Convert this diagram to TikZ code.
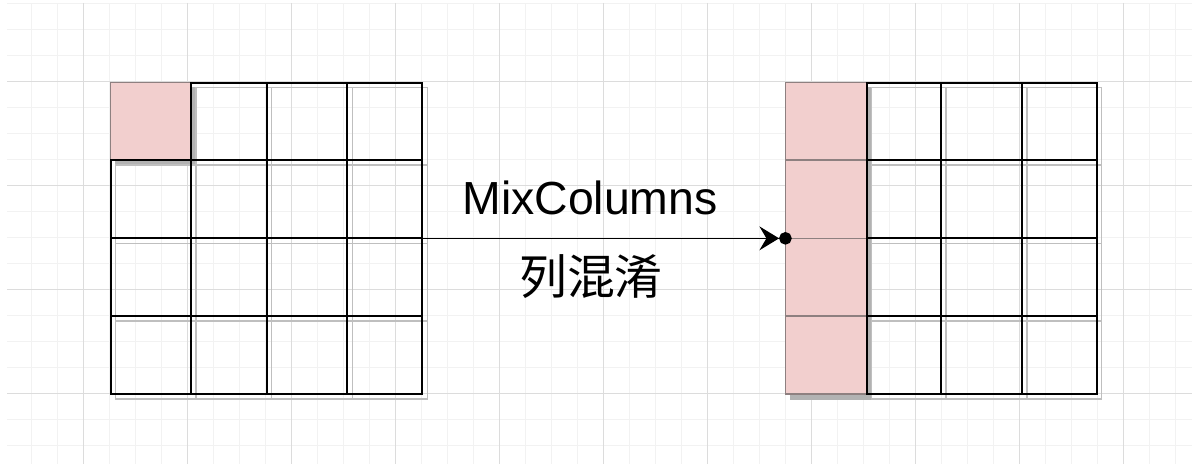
\documentclass[tikz,border=0pt]{standalone}
\usepackage{fontspec}
\setmainfont{Liberation Sans}
\newfontfamily\cjk{Noto Sans CJK SC}
\usetikzlibrary{positioning,arrows.meta,fit,shadows}
\definecolor{rejMenor}{HTML}{F2F2F2}
\definecolor{rejMayor}{HTML}{DCDCDC}
\definecolor{celRosa}{HTML}{F2CFCE}
\definecolor{bordeRosa}{HTML}{8E8080}

\begin{document}
\begin{tikzpicture}[x=0.025cm, y=-0.025cm,
      celda/.style={draw=black, line width=1.3pt, inner sep=0pt, outer sep=0pt, fit={#1},
                drop shadow={shadow xshift=3.5pt, shadow yshift=-3.5pt, opacity=1,
                             fill=none, draw=black!25, line width=1pt}},
      rosa/.style={draw=bordeRosa, fill=celRosa, line width=1pt, inner sep=0pt, outer sep=0pt, fit={#1},
                drop shadow={shadow xshift=3.5pt, shadow yshift=-3.5pt, opacity=1,
                             fill=black!30, draw=black!30}},
      flecha/.style={line width=1pt, shorten >=-4.5pt,
                -{Stealth[length=14pt,width=17pt,inset=5pt]Circle[length=9pt]}},
      etiqueta/.style={font=\fontsize{33}{40}\selectfont, inner sep=0pt}]
    \useasboundingbox (0,0) rectangle (1192,464);
    \begin{scope}
      \clip (7,3) rectangle (1192,464);
      \foreach \x in {5,31,...,1192} \draw[rejMenor, line width=0.7pt] (\x,3) -- (\x,464);
      \foreach \y in {3,29,...,464} \draw[rejMenor, line width=0.7pt] (7,\y) -- (1192,\y);
      \foreach \x in {83,187,...,1192} \draw[rejMayor, line width=0.7pt] (\x,3) -- (\x,464);
      \foreach \y in {81,185,...,464} \draw[rejMayor, line width=0.7pt] (7,\y) -- (1192,\y);
    \end{scope}

    \foreach \xa/\xb/\c in {110.7/191/1,191/266.7/2,266.7/347.3/3,347.3/422.3/4}
      \foreach \ya/\yb/\r in {82.7/160/1,160/238.3/2,238.3/316/3,316/394/4} {
        \ifnum\numexpr\r*\c\relax=1
          \node[rosa={(\xa,\ya)(\xb,\yb)}] (L-\r-\c) {};
        \else
          \node[celda={(\xa,\ya)(\xb,\yb)}] (L-\r-\c) {};
        \fi
      }
    \foreach \xa/\xb/\c in {785.7/866.7/1,866.7/941/2,941/1022/3,1022/1096.7/4}
      \foreach \ya/\yb/\r in {82.7/160/1,160/238.3/2,238.3/316/3,316/394/4} {
        \ifnum\c=1
          \node[rosa={(\xa,\ya)(\xb,\yb)}] (R-\r-\c) {};
        \else
          \node[celda={(\xa,\ya)(\xb,\yb)}] (R-\r-\c) {};
        \fi
      }
    \node[fit=(L-1-1)(L-4-4), inner sep=0pt] (izq) {};
    \node[fit=(R-1-1)(R-4-4), inner sep=0pt] (der) {};

    \draw[flecha] (izq.east) -- (der.west);
    \node[etiqueta, anchor=base] (mix) at (590,215) {MixColumns};
    \node[etiqueta, font=\cjk\fontsize{34}{40}\selectfont] (lhx) at (591,277) {列混淆};
  \end{tikzpicture}
\end{document}
